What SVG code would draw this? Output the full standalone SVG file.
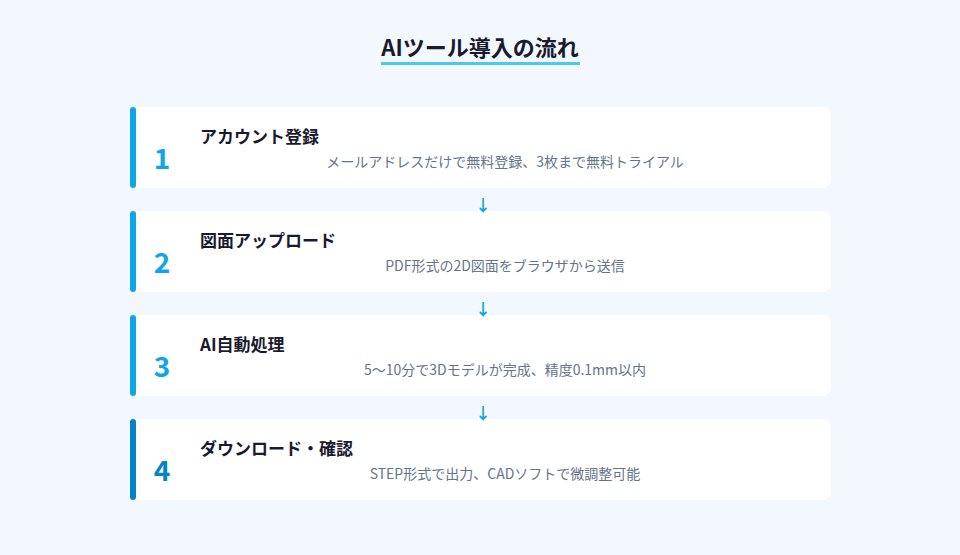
<svg xmlns="http://www.w3.org/2000/svg" width="960" height="555" viewBox="0 0 960 555">
<style>
text{font-family:"Noto Sans CJK JP","Noto Sans",sans-serif}
.title{font-size:22px;font-weight:700;fill:#1a1a2e}
.card{fill:#ffffff}
.bar{fill:#0ea5e9}
.bar4{fill:#0284c7}
.num{font-size:28px;font-weight:700;fill:#0ea5e9;text-anchor:middle}
.num4{fill:#0284c7}
.head{font-size:17px;font-weight:700;fill:#1a1a2e}
.desc{font-size:14px;fill:#64748b;text-anchor:middle}
.arr{font-size:16px;font-weight:700;fill:#0ea5e9;text-anchor:middle}
</style>
<rect width="960" height="555" fill="#f3f8fe"/>
<g id="title">
<text class="title" x="480" y="56" text-anchor="middle">AIツール導入の流れ</text>
<rect x="381" y="62" width="199" height="3" fill="#4cc9f0"/>
</g>
<g id="step1">
<rect class="card" x="130" y="107" width="701" height="81" rx="8"/>
<rect class="card" x="130" y="107" width="20" height="81"/>
<rect class="bar" x="130" y="107" width="6" height="81" rx="3"/>
<text class="num" x="162" y="169">1</text>
<text class="head" x="200" y="143">アカウント登録</text>
<text class="desc" x="505" y="167">メールアドレスだけで無料登録、3枚まで無料トライアル</text>
</g>
<g id="step2">
<rect class="card" x="130" y="211" width="701" height="81" rx="8"/>
<rect class="card" x="130" y="211" width="20" height="81"/>
<rect class="bar" x="130" y="211" width="6" height="81" rx="3"/>
<text class="num" x="162" y="273">2</text>
<text class="head" x="200" y="247">図面アップロード</text>
<text class="desc" x="505" y="271">PDF形式の2D図面をブラウザから送信</text>
</g>
<g id="step3">
<rect class="card" x="130" y="315" width="701" height="81" rx="8"/>
<rect class="card" x="130" y="315" width="20" height="81"/>
<rect class="bar" x="130" y="315" width="6" height="81" rx="3"/>
<text class="num" x="162" y="377">3</text>
<text class="head" x="200" y="351">AI自動処理</text>
<text class="desc" x="505" y="375">5〜10分で3Dモデルが完成、精度0.1mm以内</text>
</g>
<g id="step4">
<rect class="card" x="130" y="419" width="701" height="81" rx="8"/>
<rect class="card" x="130" y="419" width="20" height="81"/>
<rect class="bar4" x="130" y="419" width="6" height="81" rx="3"/>
<text class="num num4" x="162" y="481">4</text>
<text class="head" x="200" y="455">ダウンロード・確認</text>
<text class="desc" x="505" y="479">STEP形式で出力、CADソフトで微調整可能</text>
</g>
<g id="connectors">
<text class="arr" x="483" y="211">↓</text>
<text class="arr" x="483" y="315">↓</text>
<text class="arr" x="483" y="419">↓</text>
</g>
</svg>
